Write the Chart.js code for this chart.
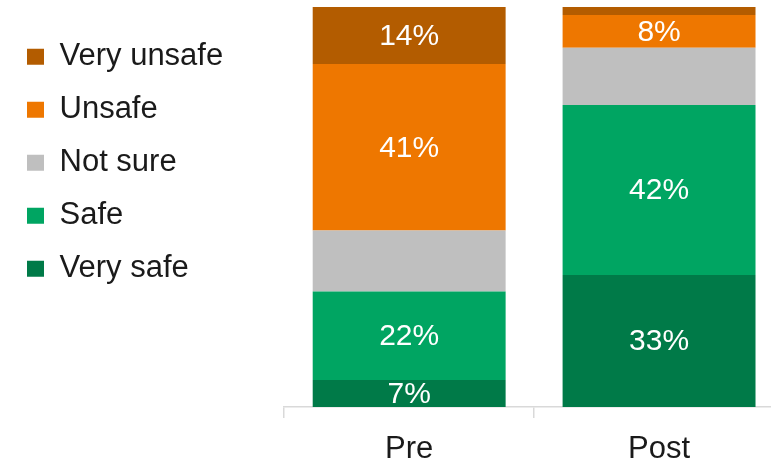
<!DOCTYPE html>
<html lang="en">
<head>
    <meta charset="UTF-8">
    <title>Safety perception Pre / Post</title>
    <script src="https://cdn.jsdelivr.net/npm/chart.js"></script>
    <style>
        body {
            margin: 0;
            overflow: hidden;
            background: #fff;
        }
        .chart-container {
            position: relative;
            width: 800px;
            height: 462px;
        }
    </style>
</head>
<body>
    <div class="chart-container">
        <canvas id="safetyChart"></canvas>
    </div>

    <script>
        // Data (percent of respondents)
        const categories = ['Pre', 'Post'];
        const seriesNames = ['Very safe', 'Safe', 'Not sure', 'Unsafe', 'Very unsafe'];
        const verySafe = [6.75, 33];
        const safe = [22.1, 42.5];
        const notSure = [15.25, 14.3];
        const unsafe = [41.65, 8.2];
        const veryUnsafe = [14.25, 2];
        // labels printed inside the segments ('' = none)
        const verySafeLabels = ['7%', '33%'];
        const safeLabels = ['22%', '42%'];
        const notSureLabels = ['', ''];
        const unsafeLabels = ['41%', '8%'];
        const veryUnsafeLabels = ['14%', ''];

        const colors = ['#007A48', '#00A562', '#BFBFBF', '#EE7700', '#B35C00'];
        const values = [verySafe, safe, notSure, unsafe, veryUnsafe];
        const segLabels = [verySafeLabels, safeLabels, notSureLabels, unsafeLabels, veryUnsafeLabels];

        const FONT = 'Liberation Sans, Arial, sans-serif';

        // white % labels centred in each segment
        const segmentLabels = {
            id: 'segmentLabels',
            afterDatasetsDraw(chart) {
                const ctx = chart.ctx;
                ctx.save();
                ctx.fillStyle = '#ffffff';
                ctx.font = '30px ' + FONT;
                ctx.textAlign = 'center';
                ctx.textBaseline = 'middle';
                chart.data.datasets.forEach((ds, i) => {
                    const meta = chart.getDatasetMeta(i);
                    meta.data.forEach((bar, j) => {
                        const txt = segLabels[i][j];
                        if (!txt) return;
                        ctx.fillText(txt, bar.x, (bar.y + bar.base) / 2 + 1);
                    });
                });
                ctx.restore();
            }
        };

        const ctx = document.getElementById('safetyChart').getContext('2d');
        new Chart(ctx, {
            type: 'bar',
            data: {
                labels: categories,
                datasets: seriesNames.map((name, i) => ({
                    label: name,
                    data: values[i],
                    backgroundColor: colors[i],
                    borderWidth: 0,
                    categoryPercentage: 1,
                    barPercentage: 0.772
                }))
            },
            options: {
                responsive: true,
                maintainAspectRatio: false,
                animation: false,
                layout: {
                    padding: { left: 5, top: 7, right: 16, bottom: -19 }
                },
                plugins: {
                    tooltip: { enabled: false },
                    legend: {
                        position: 'left',
                        align: 'start',
                        reverse: true,
                        title: {
                            display: true,
                            text: '',
                            font: { size: 1 },
                            padding: 5.5
                        },
                        labels: {
                            boxWidth: 17,
                            boxHeight: 16,
                            padding: 22,
                            color: '#1a1a1a',
                            font: { family: FONT, size: 31 }
                        }
                    }
                },
                scales: {
                    x: {
                        stacked: true,
                        grid: {
                            offset: true,
                            drawOnChartArea: false,
                            color: '#d9d9d9',
                            tickLength: 11,
                            lineWidth: 1.5
                        },
                        border: { color: '#d9d9d9', width: 1.5 },
                        ticks: {
                            color: '#1a1a1a',
                            padding: 16,
                            font: { family: FONT, size: 31, lineHeight: 1 }
                        }
                    },
                    y: {
                        display: false,
                        stacked: true,
                        min: 0,
                        max: 100,
                        afterFit(scale) {
                            // gap between legend and plot
                            scale.width = 51;
                        }
                    }
                }
            },
            plugins: [segmentLabels]
        });
    </script>
</body>
</html>
